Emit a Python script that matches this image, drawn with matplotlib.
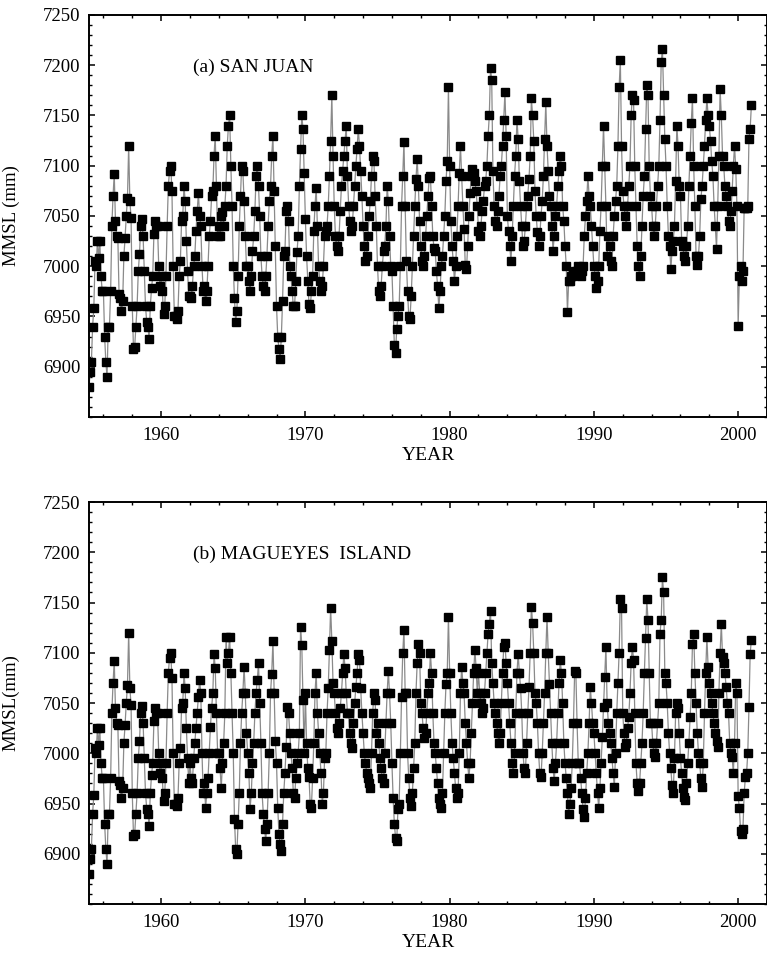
#monthly mean sea level, San Juan and Magueyes Island, two stacked panels
import numpy as np
import matplotlib
matplotlib.use('Agg')
import matplotlib.pyplot as plt
from matplotlib.ticker import MultipleLocator, FixedLocator

#first year of the monthly records
start_year = 1955

#San Juan monthly MMSL (mm), one row per year 1955-2000
san_juan = [
    6880, 6895, 6905, 6940, 6958, 7005, 7000, 7025, 7008, 7025, 6990, 6975,
    6975, 6930, 6905, 6890, 6940, 6940, 6975, 7040, 7070, 7092, 7045, 7030,
    7028, 6972, 6968, 6955, 6965, 7010, 7028, 7050, 7068, 7120, 7065, 7048,
    6960, 6918, 6920, 6940, 6960, 6995, 7012, 7040, 7047, 7030, 6995, 6960,
    6945, 6940, 6928, 6960, 6978, 6990, 7032, 7045, 7040, 7040, 7000, 6980,
    6990, 6975, 6952, 6960, 6990, 7040, 7080, 7095, 7100, 7075, 7000, 6950,
    6950, 6948, 6955, 6990, 7005, 7045, 7050, 7080, 7065, 7025, 6995, 6970,
    6970, 6968, 6980, 7000, 7010, 7035, 7055, 7073, 7050, 7040, 7000, 6975,
    6980, 6965, 6975, 7000, 7030, 7045, 7070, 7075, 7110, 7130, 7080, 7030,
    7040, 7030, 7050, 7054, 7040, 7060, 7080, 7120, 7140, 7150, 7100, 7060,
    7000, 6968, 6945, 6955, 6990, 7040, 7070, 7100, 7095, 7065, 7030, 7000,
    7000, 6985, 6975, 6990, 7015, 7030, 7055, 7090, 7100, 7080, 7050, 7010,
    6990, 6980, 6975, 6990, 7010, 7040, 7065, 7080, 7110, 7130, 7075, 7020,
    6960, 6930, 6918, 6908, 6930, 6965, 7010, 7015, 7055, 7060, 7045, 7000,
    6990, 6975, 6960, 6960, 6985, 7014, 7030, 7080, 7117, 7150, 7137, 7093,
    7047, 7010, 6985, 6962, 6958, 6975, 6990, 7035, 7060, 7078, 7040, 7000,
    6985, 6975, 6980, 7000, 7030, 7035, 7040, 7060, 7090, 7125, 7170, 7110,
    7060, 7030, 7020, 7015, 7030, 7055, 7080, 7095, 7110, 7125, 7140, 7090,
    7060, 7045, 7035, 7040, 7060, 7080, 7100, 7117, 7137, 7120, 7095, 7070,
    7040, 7020, 7005, 7010, 7030, 7050, 7065, 7090, 7110, 7105, 7070, 7040,
    7000, 6975, 6970, 6980, 7000, 7015, 7020, 7040, 7080, 7065, 7030, 7000,
    6995, 6960, 6922, 6914, 6938, 6950, 6960, 7000, 7060, 7090, 7124, 7060,
    7005, 6975, 6950, 6948, 6970, 7000, 7030, 7060, 7087, 7107, 7080, 7045,
    7020, 7005, 7000, 7010, 7030, 7050, 7070, 7088, 7090, 7060, 7030, 7018,
    7015, 6995, 6980, 6958, 6975, 7000, 7010, 7030, 7050, 7085, 7105, 7178,
    7100, 7045, 7020, 7005, 6985, 7000, 7030, 7060, 7093, 7120, 7090, 7060,
    7037, 7001, 6997, 7020, 7050, 7073, 7090, 7097, 7093, 7085, 7075, 7060,
    7035, 7030, 7040, 7055, 7065, 7080, 7085, 7100, 7130, 7150, 7197, 7185,
    7095, 7060, 7045, 7040, 7055, 7070, 7090, 7100, 7120, 7146, 7173, 7130,
    7050, 7035, 7020, 7005, 7030, 7060, 7090, 7110, 7146, 7127, 7085, 7060,
    7040, 7020, 7025, 7040, 7060, 7070, 7087, 7110, 7167, 7150, 7125, 7075,
    7050, 7034, 7020, 7030, 7050, 7065, 7090, 7127, 7163, 7120, 7095, 7070,
    7060, 7040, 7015, 7030, 7050, 7060, 7080, 7095, 7110, 7100, 7060, 7045,
    7020, 7000, 6954, 6985, 6985, 6990, 6990, 6992, 6995, 6993, 6995, 7000,
    6995, 6990, 6995, 7000, 7030, 7050, 7065, 7090, 7070, 7060, 7040, 7020,
    7000, 6990, 6978, 6985, 7000, 7035, 7060, 7100, 7140, 7100, 7060, 7010,
    7030, 7020, 7005, 7000, 7030, 7050, 7065, 7080, 7120, 7178, 7205, 7120,
    7075, 7060, 7050, 7040, 7060, 7080, 7100, 7150, 7170, 7165, 7100, 7060,
    7020, 7000, 6990, 7010, 7040, 7070, 7090, 7137, 7180, 7170, 7100, 7070,
    7060, 7040, 7030, 7040, 7060, 7080, 7100, 7146, 7203, 7216, 7170, 7127,
    7100, 7060, 7030, 7020, 6997, 7015, 7025, 7040, 7085, 7140, 7120, 7080,
    7070, 7025, 7020, 7010, 7005, 7020, 7040, 7080, 7110, 7143, 7167, 7100,
    7060, 7010, 7001, 7010, 7030, 7067, 7080, 7100, 7120, 7146, 7167, 7150,
    7140, 7125, 7105, 7090, 7060, 7040, 7017, 7060, 7110, 7176, 7150, 7110,
    7100, 7080, 7070, 7060, 7045, 7040, 7055, 7075, 7100, 7120, 7097, 7060,
    6941, 6990, 7000, 6985, 6995, 7058, 7058, 7058, 7060, 7127, 7137, 7160,
]

#Magueyes Island monthly MMSL (mm), 1955-2000
magueyes = [
    6880, 6895, 6905, 6940, 6958, 7005, 7000, 7025, 7008, 7025, 6990, 6975,
    6975, 6930, 6905, 6890, 6940, 6940, 6975, 7040, 7070, 7092, 7045, 7030,
    7028, 6972, 6968, 6955, 6965, 7010, 7028, 7050, 7068, 7120, 7065, 7048,
    6960, 6918, 6920, 6940, 6960, 6995, 7012, 7040, 7047, 7030, 6995, 6960,
    6945, 6940, 6928, 6960, 6978, 6990, 7032, 7045, 7040, 7040, 7000, 6980,
    6990, 6975, 6952, 6960, 6990, 7040, 7080, 7095, 7100, 7075, 7000, 6950,
    6950, 6948, 6955, 6990, 7005, 7045, 7050, 7080, 7065, 7025, 6995, 6970,
    6990, 6975, 6970, 6995, 7010, 7025, 7040, 7056, 7073, 7060, 7000, 6960,
    6970, 6946, 6960, 6975, 7000, 7026, 7045, 7060, 7099, 7085, 7040, 7000,
    7000, 6985, 6965, 6990, 7010, 7040, 7116, 7090, 7100, 7116, 7080, 7040,
    7000, 6935, 6905, 6900, 6930, 6960, 7010, 7040, 7060, 7086, 7060, 7020,
    7000, 6980, 6945, 6960, 6990, 7010, 7040, 7060, 7073, 7090, 7050, 7010,
    6960, 6940, 6925, 6913, 6930, 6960, 7000, 7060, 7079, 7112, 7060, 7012,
    6990, 6946, 6920, 6910, 6903, 6930, 6960, 6980, 7006, 7046, 7040, 7020,
    7000, 6985, 6960, 6955, 6975, 6990, 7000, 7020, 7126, 7108, 7053, 7000,
    7060, 7010, 6985, 6976, 6950, 6946, 6975, 7010, 7060, 7080, 7040, 7020,
    7000, 6980, 6950, 6960, 6995, 7000, 7040, 7065, 7103, 7145, 7112, 7070,
    7060, 7040, 7025, 7020, 7030, 7045, 7060, 7080, 7099, 7085, 7060, 7040,
    7040, 7020, 7010, 7005, 7030, 7050, 7066, 7080, 7099, 7093, 7065, 7040,
    7020, 7000, 6990, 6980, 6975, 6970, 6965, 7000, 7040, 7060, 7053, 7020,
    7030, 7010, 6995, 6985, 6975, 6970, 7000, 7030, 7060, 7082, 7060, 7030,
    6990, 6955, 6930, 6916, 6913, 6945, 6950, 7000, 7056, 7100, 7123, 7060,
    7060, 7000, 6975, 6955, 6948, 6960, 6985, 7010, 7060, 7090, 7109, 7100,
    7050, 7040, 7025, 7015, 7020, 7040, 7060, 7070, 7100, 7080, 7040, 7010,
    7000, 6985, 6970, 6955, 6950, 6946, 6960, 7000, 7040, 7069, 7080, 7136,
    7080, 7040, 7010, 6995, 6980, 6965, 6955, 6960, 7000, 7060, 7086, 7070,
    7060, 7030, 7010, 6990, 6975, 6990, 7020, 7050, 7080, 7103, 7085, 7060,
    7080, 7060, 7050, 7040, 7045, 7060, 7080, 7100, 7119, 7129, 7142, 7090,
    7070, 7050, 7040, 7030, 7020, 7010, 7020, 7050, 7080, 7106, 7110, 7090,
    7070, 7050, 7030, 7010, 6990, 6980, 7000, 7040, 7080, 7099, 7080, 7065,
    7040, 7000, 6985, 6980, 7010, 7040, 7066, 7100, 7146, 7130, 7100, 7060,
    7050, 7030, 7000, 6980, 6976, 7000, 7030, 7060, 7100, 7136, 7100, 7069,
    7040, 7010, 6985, 6972, 6990, 7010, 7040, 7070, 7093, 7080, 7050, 7010,
    6990, 6975, 6960, 6940, 6950, 6965, 6990, 7030, 7082, 7080, 7030, 6990,
    6990, 6975, 6960, 6945, 6937, 6955, 6980, 7000, 7030, 7066, 7050, 7030,
    7020, 7000, 6980, 6960, 6946, 6965, 6990, 7016, 7046, 7076, 7106, 7050,
    7030, 7020, 7010, 6995, 6980, 6966, 7000, 7040, 7070, 7100, 7153, 7145,
    7040, 7020, 7006, 7010, 7025, 7036, 7060, 7090, 7106, 7093, 7040, 6990,
    6970, 6962, 6970, 6990, 7010, 7040, 7080, 7115, 7153, 7133, 7080, 7030,
    7030, 7010, 7000, 6996, 7010, 7030, 7050, 7119, 7133, 7175, 7160, 7080,
    7070, 7050, 7020, 7000, 6985, 6968, 6960, 6995, 7040, 7050, 7045, 7020,
    6995, 6980, 6965, 6956, 6953, 6970, 6990, 7010, 7036, 7060, 7109, 7119,
    7080, 7050, 7020, 7000, 6990, 6975, 6966, 6990, 7040, 7080, 7116, 7086,
    7070, 7060, 7050, 7040, 7030, 7020, 7012, 7006, 7060, 7100, 7129, 7096,
    7090, 7080, 7066, 7050, 7040, 7010, 7000, 6996, 6980, 7010, 7070, 7060,
    6957, 6946, 6923, 6920, 6925, 6960, 6976, 6980, 7000, 7046, 7099, 7113,
]

panel_titles = ['(a) SAN JUAN', '(b) MAGUEYES  ISLAND']
y_labels = ['MMSL (mm)', 'MMSL(mm)']
x_ticks = [1960, 1970, 1980, 1990, 2000]
y_ticks = [6900, 6950, 7000, 7050, 7100, 7150, 7200, 7250]

serif = ['Liberation Serif', 'DejaVu Serif']
plt.rcParams['font.family'] = serif

#decimal year for every month
t = start_year + np.arange(len(san_juan)) / 12.0

fig = plt.figure(figsize=(7.67, 9.63), dpi=100)
ax1 = fig.add_axes([89/767, 1 - 417/963, 678/767, 402/963])
ax2 = fig.add_axes([89/767, 1 - 904/963, 678/767, 402/963])

for ax, series, title, ylab in zip([ax1, ax2], [san_juan, magueyes], panel_titles, y_labels):
    ax.plot(t, series, color='#8a8a8a', lw=0.9, zorder=2)
    ax.plot(t, series, ls='none', marker='s', ms=6.0, color='black', zorder=3)
    ax.set_xlim(1955, 2002)
    ax.set_ylim(6850, 7250)
    ax.xaxis.set_major_locator(FixedLocator(x_ticks))
    ax.xaxis.set_minor_locator(MultipleLocator(2))
    ax.yaxis.set_major_locator(FixedLocator(y_ticks))
    ax.yaxis.set_minor_locator(MultipleLocator(10))
    ax.tick_params(which='both', direction='in', top=True, right=True, labelsize=13.5)
    ax.tick_params(which='major', length=4.5, width=1.1)
    ax.tick_params(which='minor', length=2.5, width=1.0)
    ax.tick_params(axis='x', pad=7)
    ax.tick_params(axis='y', pad=6)
    for s in ax.spines.values():
        s.set_linewidth(1.4)
    ax.text(1962.2, 7198, title, fontsize=14, va='center', ha='left')
    ax.set_ylabel(ylab, fontsize=13.5)
    ax.yaxis.set_label_coords(-0.102, 0.5)
    ax.set_xlabel('YEAR', fontsize=14, labelpad=2)

fig.savefig('out.png', dpi=100)
